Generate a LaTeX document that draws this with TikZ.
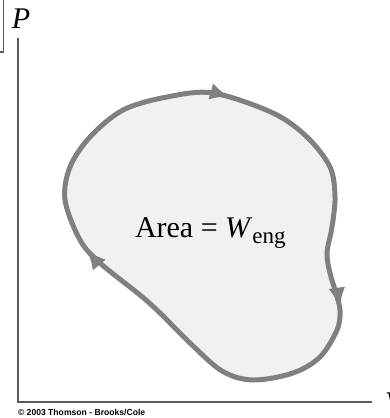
\documentclass[tikz,border=0pt]{standalone}
\usepackage{fontspec}
\setmainfont{Liberation Serif}
\newfontfamily\creditfont{Liberation Sans}
\usetikzlibrary{arrows.meta,decorations.markings}
\definecolor{loopgray}{RGB}{128,128,128}
\definecolor{loopfill}{RGB}{241,241,241}
\definecolor{axisgray}{RGB}{90,90,90}

\begin{document}
\begin{tikzpicture}[x=1pt,y=-1pt,
  axis/.style={draw=axisgray,line width=1.8pt},
  cycleline/.style={draw=loopgray,fill=loopfill,line width=5pt,line join=round},
  cyctip/.tip={Latex[length=20pt,width=17pt,color=loopgray]},
  every node/.style={inner sep=0pt,outer sep=0pt}]
  \useasboundingbox (0,0) rectangle (389,418);
  % corner mark
  \draw[draw=axisgray,line width=1.3pt] (3.5,0) -- (3.5,52) -- (0,52);
  % axes
  \coordinate (ytop) at (18,38);
  \coordinate (origin) at (18,402);
  \coordinate (xend) at (372,402);
  \draw[axis] (ytop) -- (origin) -- (xend);
  \node[anchor=base west,font=\fontsize{30}{30}\selectfont\itshape] (plabel) at (12,28) {P};
  \node[anchor=base west,font=\fontsize{30}{30}\selectfont\itshape] (vlabel) at (385,412) {V};
  % the cycle
  \path[cycleline,postaction={decorate},decoration={markings,
      mark=at position 0.072 with {\arrow{cyctip}},
      mark=at position 0.375 with {\arrow{cyctip}},
      mark=at position 0.760 with {\arrow{cyctip}}}]
    plot[smooth cycle,tension=0.55] coordinates {
      (123,110) (167,97) (213,93) (273,113) (307,137) (330,167) (335,197)
      (332,227) (327,253) (330,273) (335,290) (340,310) (337,330) (320,357)
      (293,373) (253,380) (222,371) (190,343) (160,313) (140,295) (100,263)
      (80,240) (65,200) (70,167) (90,137)};
  \node[anchor=base west,font=\fontsize{30}{30}\selectfont] (area) at (135,237)
    {Area = \textit{W}\raisebox{-6pt}{\fontsize{23}{23}\selectfont eng}};
  \node[anchor=base west,font=\creditfont\bfseries\fontsize{8.6}{8.6}\selectfont] (credit) at (18,415)
    {\textcopyright\ 2003 Thomson - Brooks/Cole};
\end{tikzpicture}
\end{document}
